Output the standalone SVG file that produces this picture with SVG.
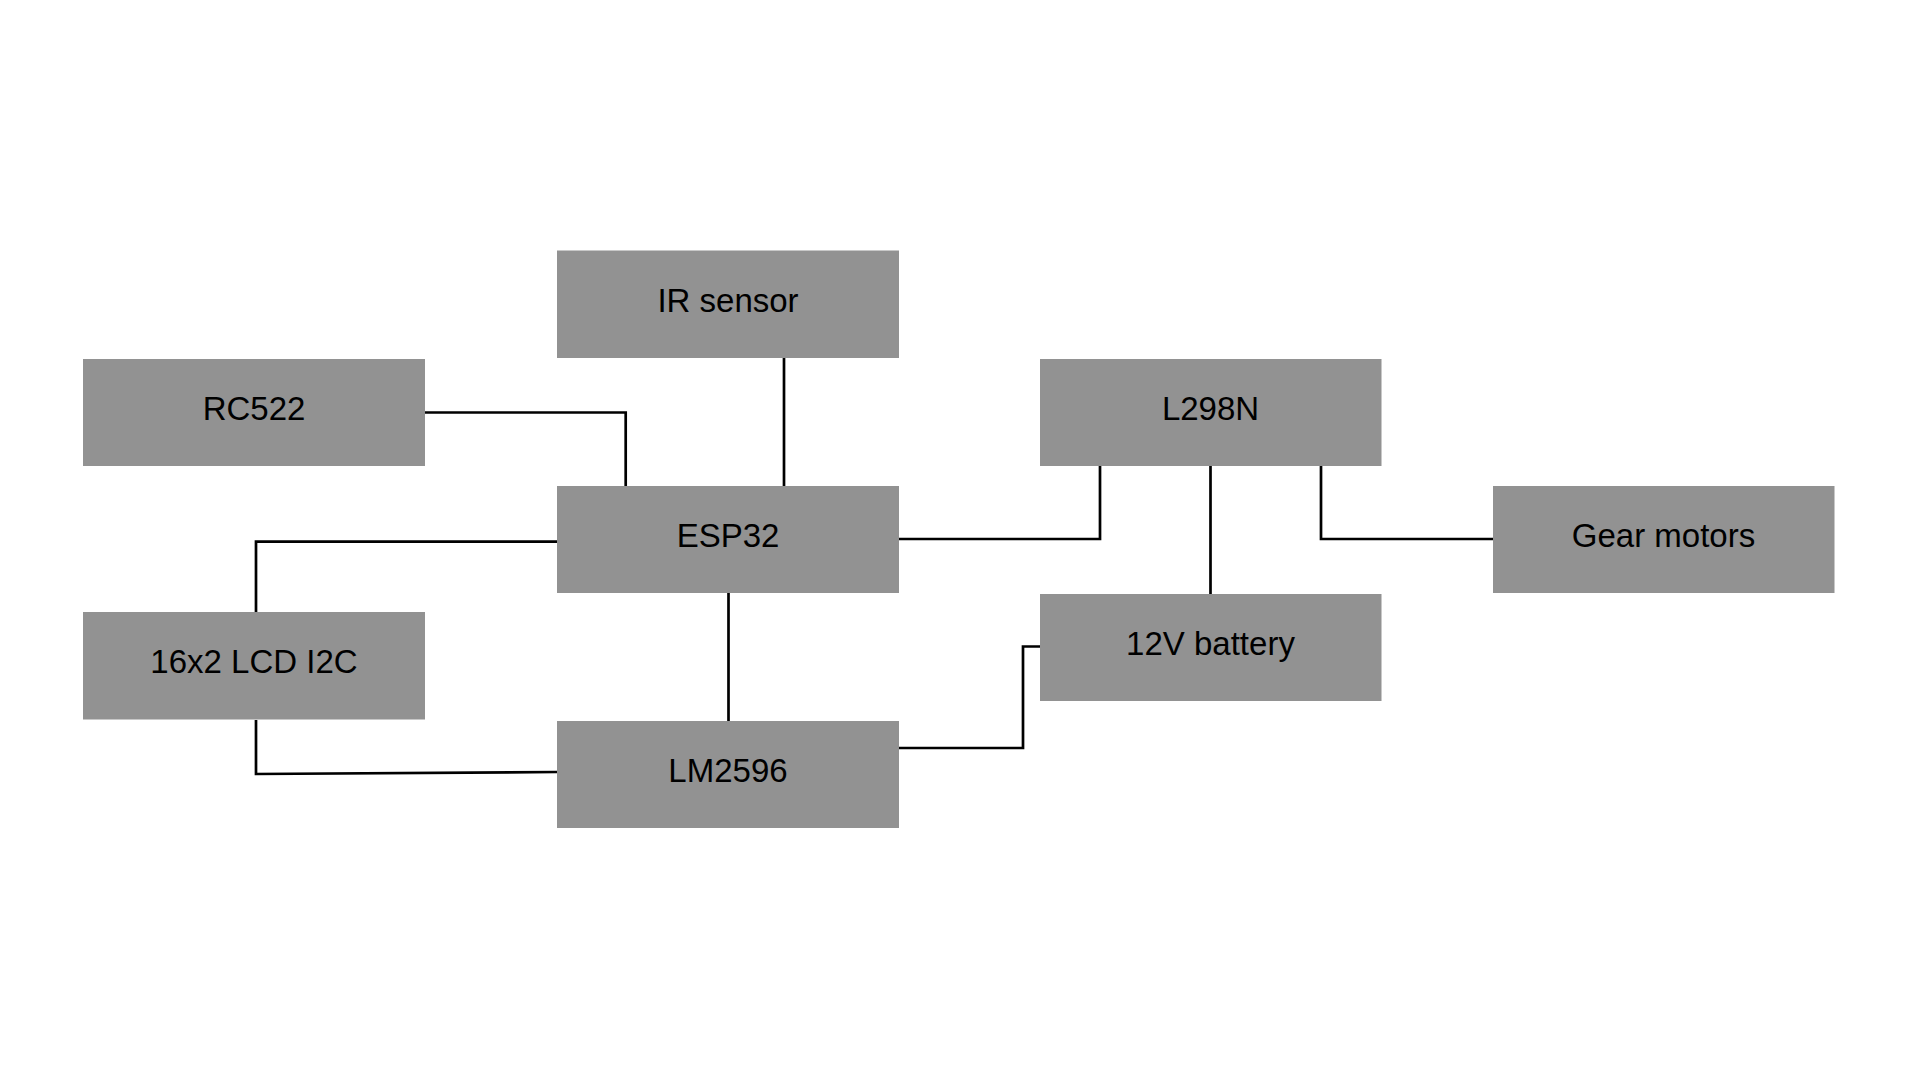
<svg xmlns="http://www.w3.org/2000/svg" width="1920" height="1080" viewBox="0 0 1920 1080">
<style>
.box{fill:#929292;}
.lbl{font-family:"Liberation Sans",Arial,sans-serif;font-size:33px;fill:#000;text-anchor:middle;}
.wire{fill:none;stroke:#000;stroke-width:2.7;stroke-linejoin:miter;}
</style>
<rect width="1920" height="1080" fill="#fff"/>
<g id="connectors">
<path class="wire" d="M784 358 V486"/>
<path class="wire" d="M425 412.5 H625.7 V486"/>
<path class="wire" d="M557 541.7 H256 V612"/>
<path class="wire" d="M256 720 V774 L557 772"/>
<path class="wire" d="M728.5 593 V721"/>
<path class="wire" d="M899 539 H1100 V466"/>
<path class="wire" d="M1210.5 466 V594"/>
<path class="wire" d="M1321 466 V539 H1493"/>
<path class="wire" d="M899 748 H1023 V646.5 H1040"/>
</g>
<g id="ir-sensor"><rect class="box" x="557" y="250.5" width="342" height="107.5"/><text class="lbl" x="728" y="311.5">IR sensor</text></g>
<g id="rc522"><rect class="box" x="83" y="359" width="342" height="107"/><text class="lbl" x="254" y="420">RC522</text></g>
<g id="l298n"><rect class="box" x="1040" y="359" width="341.5" height="107"/><text class="lbl" x="1210.5" y="420">L298N</text></g>
<g id="esp32"><rect class="box" x="557" y="486" width="342" height="107"/><text class="lbl" x="728" y="547">ESP32</text></g>
<g id="gear-motors"><rect class="box" x="1493" y="486" width="341.5" height="107"/><text class="lbl" x="1663.5" y="547">Gear motors</text></g>
<g id="lcd"><rect class="box" x="83" y="612" width="342" height="107.5"/><text class="lbl" x="254" y="673">16x2 LCD I2C</text></g>
<g id="battery"><rect class="box" x="1040" y="594" width="341.5" height="107"/><text class="lbl" x="1210.5" y="655">12V battery</text></g>
<g id="lm2596"><rect class="box" x="557" y="721" width="342" height="107"/><text class="lbl" x="728" y="782">LM2596</text></g>
</svg>
